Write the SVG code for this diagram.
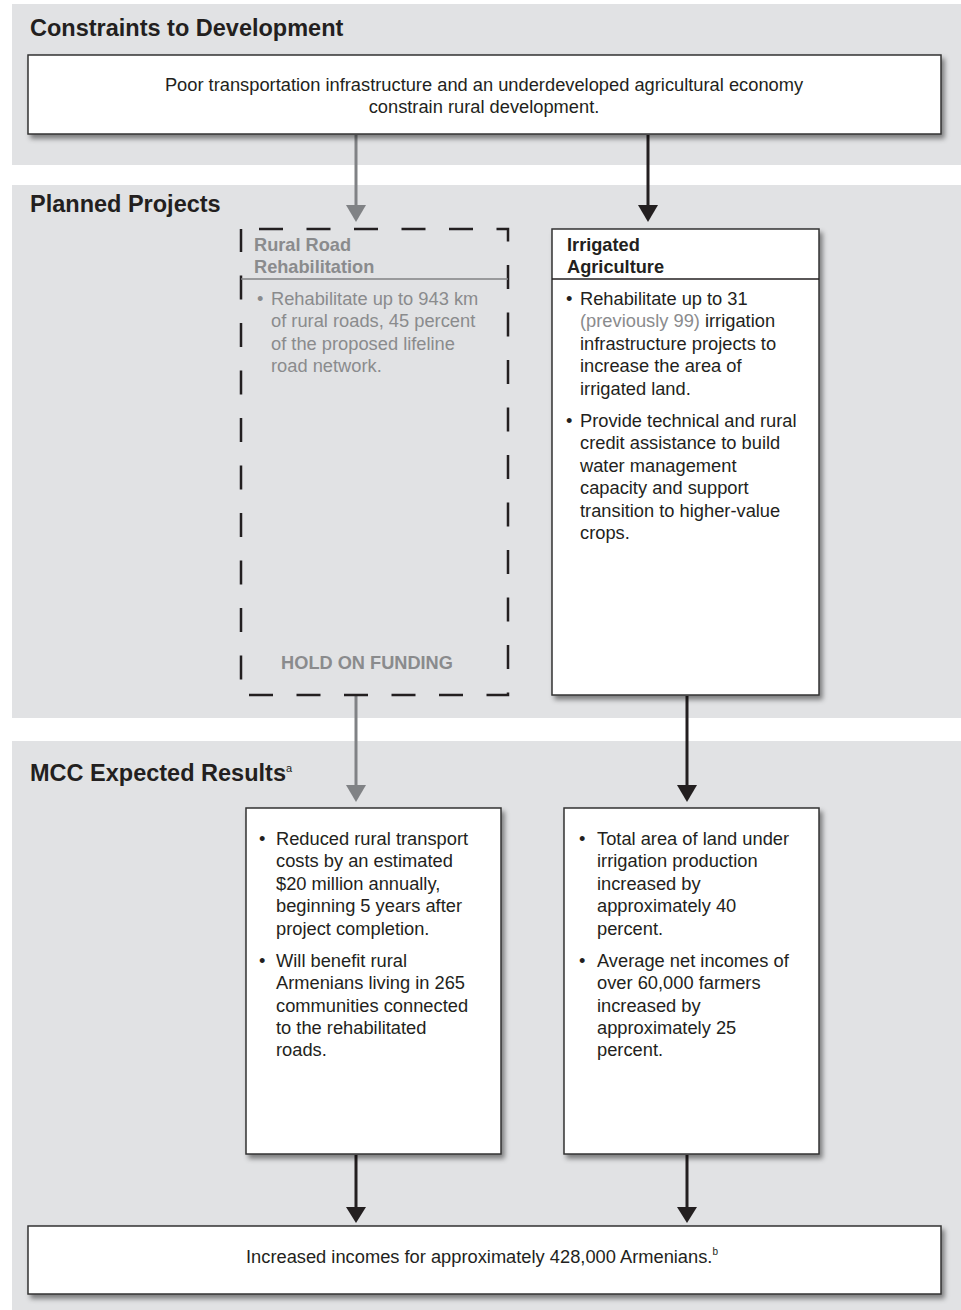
<svg xmlns="http://www.w3.org/2000/svg" width="961" height="1310" viewBox="0 0 961 1310">
<style>
text{font-family:"Liberation Sans",Arial,sans-serif;fill:#231f20}
.sec{font-size:23.5px;font-weight:bold}
.body{font-size:18.3px}
.hd{font-size:18.2px;font-weight:bold}
.g{fill:#8a8b8d}
.panel{fill:#e1e2e4}
.box{fill:#fff;stroke:#333;stroke-width:1.5;filter:url(#sh)}
.ln{stroke-width:3;fill:none}
</style>
<defs>
<filter id="sh" x="-5%" y="-5%" width="115%" height="120%">
<feDropShadow dx="3" dy="4" stdDeviation="2.5" flood-color="#000" flood-opacity="0.45"/>
</filter>
</defs>

<g id="panels">
<rect class="panel" x="12" y="4" width="949" height="161"/>
<rect class="panel" x="12" y="185" width="949" height="533"/>
<rect class="panel" x="12" y="741" width="949" height="569"/>
<text class="sec" x="30" y="36">Constraints to Development</text>
<text class="sec" x="30" y="212">Planned Projects</text>
<text class="sec" x="30" y="781">MCC Expected Results<tspan font-size="11px" font-weight="normal" dy="-9">a</tspan></text>
</g>

<g id="connectors">
<line class="ln" x1="356" y1="135" x2="356" y2="206" stroke="#808285"/>
<polygon points="346,205 366,205 356,222" fill="#808285"/>
<line class="ln" x1="648" y1="135" x2="648" y2="206" stroke="#231f20"/>
<polygon points="638,205 658,205 648,222" fill="#231f20"/>
<line class="ln" x1="356" y1="696" x2="356" y2="786" stroke="#808285"/>
<polygon points="346,785 366,785 356,802" fill="#808285"/>
<line class="ln" x1="687" y1="696" x2="687" y2="786" stroke="#231f20"/>
<polygon points="677,785 697,785 687,802" fill="#231f20"/>
<line class="ln" x1="356" y1="1155" x2="356" y2="1208" stroke="#231f20"/>
<polygon points="346,1207 366,1207 356,1223" fill="#231f20"/>
<line class="ln" x1="687" y1="1155" x2="687" y2="1208" stroke="#231f20"/>
<polygon points="677,1207 697,1207 687,1223" fill="#231f20"/>
</g>

<g id="constraint">
<rect class="box" x="28" y="55" width="913" height="79"/>
<text class="body" x="484" y="91" text-anchor="middle">Poor transportation infrastructure and an underdeveloped agricultural economy</text>
<text class="body" x="484" y="113" text-anchor="middle">constrain rural development.</text>
</g>

<g id="rural-road">
<rect x="241" y="229" width="267" height="466" fill="none" stroke="#231f20" stroke-width="2.5" stroke-dasharray="24 23.5" stroke-dashoffset="-18"/>
<line x1="241" y1="279" x2="508" y2="279" stroke="#808285" stroke-width="1.5"/>
<text class="hd g" x="254" y="251">Rural Road</text>
<text class="hd g" x="254" y="273">Rehabilitation</text>
<text class="body g" x="257" y="305">•</text>
<text class="body g" x="271" y="305">Rehabilitate up to 943 km</text>
<text class="body g" x="271" y="327">of rural roads, 45 percent</text>
<text class="body g" x="271" y="350">of the proposed lifeline</text>
<text class="body g" x="271" y="372">road network.</text>
<text class="hd g" x="367" y="669" text-anchor="middle">HOLD ON FUNDING</text>
</g>

<g id="irrigated">
<rect class="box" x="552" y="229" width="267" height="466"/>
<line x1="552" y1="279" x2="819" y2="279" stroke="#231f20" stroke-width="1.5"/>
<text class="hd" x="567" y="251">Irrigated</text>
<text class="hd" x="567" y="273">Agriculture</text>
<text class="body" x="566" y="305">•</text>
<text class="body" x="580" y="305">Rehabilitate up to 31</text>
<text class="body" x="580" y="327"><tspan class="g">(previously 99)</tspan> irrigation</text>
<text class="body" x="580" y="350">infrastructure projects to</text>
<text class="body" x="580" y="372">increase the area of</text>
<text class="body" x="580" y="395">irrigated land.</text>
<text class="body" x="566" y="427">•</text>
<text class="body" x="580" y="427">Provide technical and rural</text>
<text class="body" x="580" y="449">credit assistance to build</text>
<text class="body" x="580" y="472">water management</text>
<text class="body" x="580" y="494">capacity and support</text>
<text class="body" x="580" y="517">transition to higher-value</text>
<text class="body" x="580" y="539">crops.</text>
</g>

<g id="result-roads">
<rect class="box" x="246" y="808" width="255" height="346"/>
<text class="body" x="259" y="845">•</text>
<text class="body" x="276" y="845">Reduced rural transport</text>
<text class="body" x="276" y="867">costs by an estimated</text>
<text class="body" x="276" y="890">$20 million annually,</text>
<text class="body" x="276" y="912">beginning 5 years after</text>
<text class="body" x="276" y="935">project completion.</text>
<text class="body" x="259" y="967">•</text>
<text class="body" x="276" y="967">Will benefit rural</text>
<text class="body" x="276" y="989">Armenians living in 265</text>
<text class="body" x="276" y="1012">communities connected</text>
<text class="body" x="276" y="1034">to the rehabilitated</text>
<text class="body" x="276" y="1056">roads.</text>
</g>

<g id="result-irrigation">
<rect class="box" x="564" y="808" width="255" height="346"/>
<text class="body" x="579" y="845">•</text>
<text class="body" x="597" y="845">Total area of land under</text>
<text class="body" x="597" y="867">irrigation production</text>
<text class="body" x="597" y="890">increased by</text>
<text class="body" x="597" y="912">approximately 40</text>
<text class="body" x="597" y="935">percent.</text>
<text class="body" x="579" y="967">•</text>
<text class="body" x="597" y="967">Average net incomes of</text>
<text class="body" x="597" y="989">over 60,000 farmers</text>
<text class="body" x="597" y="1012">increased by</text>
<text class="body" x="597" y="1034">approximately 25</text>
<text class="body" x="597" y="1056">percent.</text>
</g>

<g id="outcome">
<rect class="box" x="28" y="1226" width="913" height="68"/>
<text class="body" x="482" y="1263" text-anchor="middle">Increased incomes for approximately 428,000 Armenians.<tspan font-size="10px" dy="-8">b</tspan></text>
</g>
</svg>
